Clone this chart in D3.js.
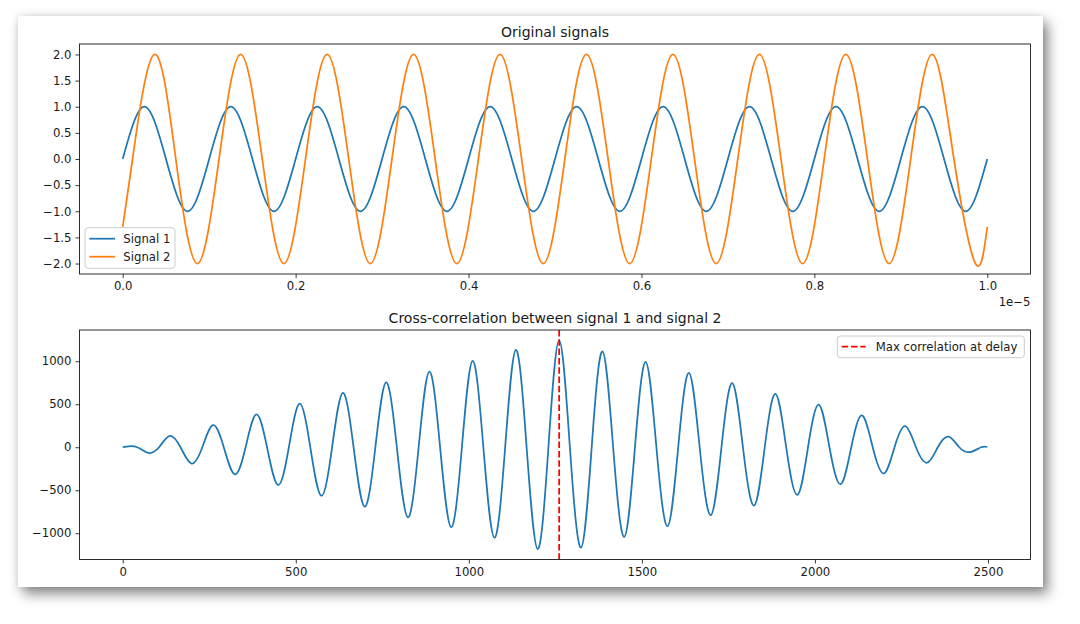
<!DOCTYPE html>
<html>
<head>
<meta charset="utf-8">
<script src="https://cdn.jsdelivr.net/npm/d3@7"></script>
<style>
  body { margin: 0; background: #fff; }
  #card {
    position: absolute; left: 18px; top: 16px; width: 1025px; height: 571px;
    background: #fff;
    box-shadow: 5px 7px 12px rgba(0,0,0,0.45), 0 0 8px rgba(0,0,0,0.12);
  }
  #chart { position: absolute; left: 0; top: 0; }
  text { font-family: "DejaVu Sans", sans-serif; fill: #1a1a1a; }
</style>
</head>
<body>
<div id="card"></div>
<div id="chart"></div>
<script>
// signal values, time in units of 1e-5 s
var s1Time = [0, 0.025, 0.05, 0.075, 0.1, 0.125, 0.15, 0.175, 0.2, 0.225, 0.25, 0.275, 0.3, 0.325, 0.35, 0.375,
  0.4, 0.425, 0.45, 0.475, 0.5, 0.525, 0.55, 0.575, 0.6, 0.625, 0.65, 0.675, 0.7, 0.725, 0.75, 0.775,
  0.8, 0.825, 0.85, 0.875, 0.9, 0.925, 0.95, 0.975, 1.0];
var s1Value = [0, 1, 0, -1, 0, 1, 0, -1, 0, 1, 0, -1, 0, 1, 0, -1, 0, 1, 0, -1, 0, 1, 0, -1,
  0, 1, 0, -1, 0, 1, 0, -1, 0, 1, 0, -1, 0, 1, 0, -1, 0];

var s2Time = [0, 0.0114, 0.0364, 0.0614, 0.0864, 0.1114, 0.1364, 0.1614, 0.1864, 0.2114, 0.2364, 0.2614, 0.2864,
  0.3114, 0.3364, 0.3614, 0.3864, 0.4114, 0.4364, 0.4614, 0.4864, 0.5114, 0.5364, 0.5614, 0.5864,
  0.6114, 0.6364, 0.6614, 0.6864, 0.7114, 0.7364, 0.7614, 0.7864, 0.8114, 0.8364, 0.8614, 0.8864,
  0.9114, 0.9364, 0.9614, 0.9864, 1.0];
var s2Value = [-1.3, 0, 2, 0, -2, 0, 2, 0, -2, 0, 2, 0, -2, 0, 2, 0, -2, 0, 2, 0, -2,
  0, 2, 0, -2, 0, 2, 0, -2, 0, 2, 0, -2, 0, 2, 0, -2, 0, 2, 0, -2, -1.3];

// cross-correlation (lag index, value)
var corrLag = [0, 11, 42, 74, 105, 136, 167, 199, 230, 261, 292, 324, 355, 386, 417, 449, 480, 511, 542, 574,
  605, 636, 667, 699, 730, 761, 792, 824, 855, 886, 917, 949, 980, 1011, 1042, 1074, 1105, 1136, 1167, 1199,
  1230, 1261, 1292, 1324, 1355, 1386, 1417, 1449, 1480, 1511, 1542, 1574, 1605, 1636, 1667, 1699, 1730,
  1761, 1792, 1824, 1855, 1886, 1917, 1949, 1980, 2011, 2042, 2074, 2105, 2136, 2167, 2199, 2230, 2261,
  2292, 2324, 2355, 2386, 2417, 2449, 2480, 2498];
var corrValue = [0, 8, 0, -66, 0, 133, 0, -190, 0, 257, 0, -315, 0, 382, 0, -438, 0, 506, 0, -564,
  0, 631, 0, -690, 0, 755, 0, -815, 0, 880, 0, -930, 0, 1005, 0, -1052, 0, 1132, 0, -1184,
  0, 1242, 0, -1168, 0, 1114, 0, -1043, 0, 992, 0, -918, 0, 866, 0, -790, 0,
  746, 0, -678, 0, 620, 0, -555, 0, 495, 0, -430, 0, 370, 0, -305, 0, 245,
  0, -180, 0, 124, 0, -56, 0, 3];

var topXTicks = [0, 0.2, 0.4, 0.6, 0.8, 1.0];
var topYTicks = [-2, -1.5, -1, -0.5, 0, 0.5, 1, 1.5, 2];
var botXTicks = [0, 500, 1000, 1500, 2000, 2500];
var botYTicks = [-1000, -500, 0, 500, 1000];

var blue = "#1f77b4", orange = "#ff7f0e";

var W = 1080, H = 624;
var svg = d3.select("#chart").append("svg").attr("width", W).attr("height", H);

var left = 79.5, right = 1030.5;
var top1 = {y0: 44, y1: 274};
var top2 = {y0: 330, y1: 559.5};

function pad(ext) {
    var m = (ext[1] - ext[0]) * 0.05;
    return [ext[0] - m, ext[1] + m];
}

function drawAxes(g, x, y, box, xt, yt, xfmt, yfmt, title) {
    g.append("g")
        .attr("transform", "translate(0," + box.y1 + ")")
        .call(d3.axisBottom(x).tickValues(xt).tickFormat(xfmt).tickSize(4).tickPadding(4).tickSizeOuter(0))
        .call(a => a.select(".domain").remove())
        .selectAll("text").style("font-size", "11.7px").attr("fill", "#1a1a1a");
    g.append("g")
        .attr("transform", "translate(" + left + ",0)")
        .call(d3.axisLeft(y).tickValues(yt).tickFormat(yfmt).tickSize(4).tickPadding(4).tickSizeOuter(0))
        .call(a => a.select(".domain").remove())
        .selectAll("text").style("font-size", "11.7px").attr("fill", "#1a1a1a");
    g.selectAll(".tick line").attr("stroke", "#222").attr("stroke-width", 0.9);
    g.append("text")
        .attr("x", (left + right) / 2).attr("y", box.y0 - 7)
        .attr("text-anchor", "middle").style("font-size", "14px")
        .text(title);
}

function spine(g, box) {
    g.append("rect")
        .attr("x", left).attr("y", box.y0)
        .attr("width", right - left).attr("height", box.y1 - box.y0)
        .attr("fill", "none").attr("stroke", "#222").attr("stroke-width", 0.95);
}

// ---- top: original signals
var g1 = svg.append("g");
var x1 = d3.scaleLinear().domain(pad([0, 1])).range([left, right]);
var y1 = d3.scaleLinear().domain(pad([-2, 2])).range([top1.y1, top1.y0]);

drawAxes(g1, x1, y1, top1, topXTicks, topYTicks, d3.format(".1f"), d3.format(".1f"), "Original signals");

var line1 = d3.line().curve(d3.curveNatural)
    .x(d => x1(d[0])).y(d => y1(d[1]));

g1.append("path")
    .attr("d", line1(d3.zip(s1Time, s1Value)))
    .attr("fill", "none").attr("stroke", blue).attr("stroke-width", 1.75);
g1.append("path")
    .attr("d", line1(d3.zip(s2Time, s2Value)))
    .attr("fill", "none").attr("stroke", orange).attr("stroke-width", 1.75);

spine(g1, top1);

g1.append("text")
    .attr("x", right).attr("y", 306)
    .attr("text-anchor", "end").style("font-size", "11.7px")
    .text("1e\u22125");

// legend lower left
var lg1 = g1.append("g");
lg1.append("rect")
    .attr("x", left + 5.5).attr("y", top1.y1 - 46.3)
    .attr("width", 90).attr("height", 40.6).attr("rx", 3)
    .attr("fill", "#fff").attr("fill-opacity", 0.8)
    .attr("stroke", "#cccccc").attr("stroke-width", 1);
[["Signal 1", blue], ["Signal 2", orange]].forEach(function(d, i) {
    var yy = top1.y1 - 35.3 + i * 18;
    lg1.append("line")
        .attr("x1", left + 9.8).attr("x2", left + 35.5)
        .attr("y1", yy).attr("y2", yy)
        .attr("stroke", d[1]).attr("stroke-width", 1.75);
    lg1.append("text")
        .attr("x", left + 43.8).attr("y", yy + 4.2)
        .style("font-size", "11.7px").text(d[0]);
});

// ---- bottom: cross-correlation
var g2 = svg.append("g");
var x2 = d3.scaleLinear().domain(pad(d3.extent(corrLag))).range([left, right]);
var y2 = d3.scaleLinear().domain(pad(d3.extent(corrValue))).range([top2.y1, top2.y0]);

drawAxes(g2, x2, y2, top2, botXTicks, botYTicks, d3.format("d"), d3.format("d"),
    "Cross-correlation between signal 1 and signal 2");

var line2 = d3.line().curve(d3.curveNatural)
    .x(d => x2(d[0])).y(d => y2(d[1]));

g2.append("path")
    .attr("d", line2(d3.zip(corrLag, corrValue)))
    .attr("fill", "none").attr("stroke", blue).attr("stroke-width", 1.75);

var maxLag = corrLag[d3.maxIndex(corrValue)];
g2.append("line")
    .attr("x1", x2(maxLag)).attr("x2", x2(maxLag))
    .attr("y1", top2.y0).attr("y2", top2.y1)
    .attr("stroke", "#ff0000").attr("stroke-width", 1.75)
    .attr("stroke-dasharray", "6.5,2.8");

spine(g2, top2);

// legend upper right
var lg2 = g2.append("g");
lg2.append("rect")
    .attr("x", right - 193.2).attr("y", top2.y0 + 6)
    .attr("width", 187).attr("height", 21.7).attr("rx", 3)
    .attr("fill", "#fff").attr("fill-opacity", 0.8)
    .attr("stroke", "#cccccc").attr("stroke-width", 1);
lg2.append("line")
    .attr("x1", right - 188.8).attr("x2", right - 164.8)
    .attr("y1", top2.y0 + 16.5).attr("y2", top2.y0 + 16.5)
    .attr("stroke", "#ff0000").attr("stroke-width", 1.75)
    .attr("stroke-dasharray", "6.5,2.8");
lg2.append("text")
    .attr("x", right - 154.8).attr("y", top2.y0 + 20.7)
    .style("font-size", "11.7px").text("Max correlation at delay");
</script>
</body>
</html>
